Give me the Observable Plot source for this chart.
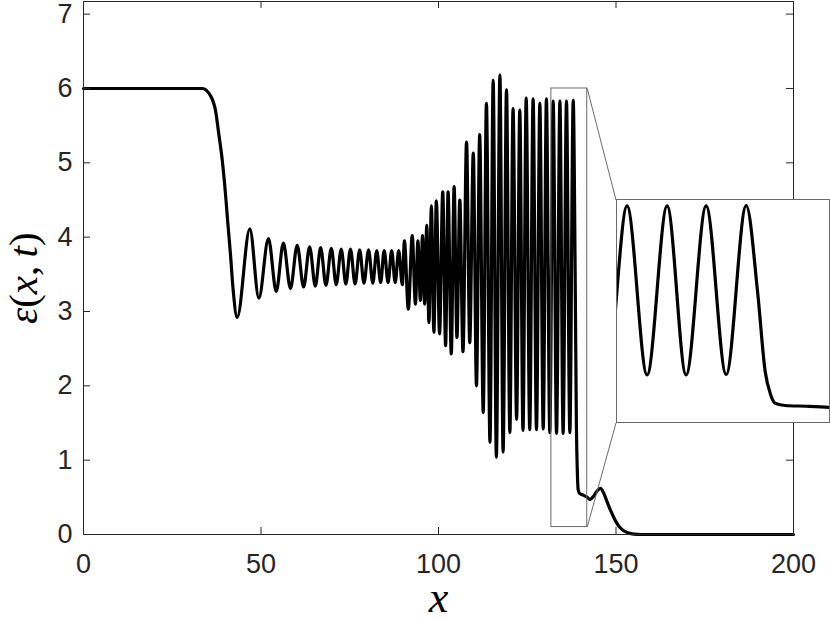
<!DOCTYPE html>
<html>
<head>
<meta charset="utf-8">
<script src="https://cdn.jsdelivr.net/npm/d3@7"></script>
<script src="https://cdn.jsdelivr.net/npm/@observablehq/plot@0.6"></script>
<style>
  html, body { margin: 0; padding: 0; background: #fff; }
  #wrap { position: relative; width: 830px; height: 621px; }
  #inset { position: absolute; }
</style>
</head>
<body>
<div id="wrap"><div id="main"></div><div id="inset"></div></div>
<script>
// ---- data ----
const xTicks = [0, 50, 100, 150, 200];
const yTicks = [0, 1, 2, 3, 4, 5, 6, 7];

// epsilon(x,t): plateau, front, damped ripples, growing oscillation, drop, bump, zero tail
const curveX = [
  0, 30, 33.5, 35.8, 37.2, 38.1, 39.1, 40.0, 40.6, 41.4, 42.1, 43.3,
  46.85, 49.4, 52.1, 54.3, 56.3, 58.3, 60.2, 62.0, 63.7, 65.3, 66.8, 68.3, 69.8, 71.2,
  72.6, 73.9, 75.2, 76.5, 77.8, 79.0, 80.3, 81.5, 82.6, 83.7, 84.7, 85.8, 86.8, 87.8, 88.8, 89.8,
  90.4, 91.5, 92.6, 93.5, 94.2, 94.9, 95.5, 96.1, 96.7, 97.3, 98.0, 98.7, 99.4, 100.3,
  101.2, 102.0, 102.7, 103.6, 104.4, 105.2, 106.0, 106.9, 107.9, 108.8, 109.8, 110.7,
  111.6, 112.6, 113.5, 114.5, 115.4, 116.3, 117.3, 118.2, 119.15, 120.1, 121.0, 122.0,
  122.9, 123.8, 124.7, 125.7, 126.65, 127.6, 128.55, 129.5, 130.4, 131.35, 132.3, 133.25,
  134.2, 135.1, 136.05, 137.0, 137.95,
  138.5, 138.85, 139.1, 139.35, 139.8, 140.8, 141.9, 142.6, 143.6, 144.6, 145.6, 146.6,
  147.5, 148.5, 149.9, 151.0, 152.2, 153.5, 155.0, 157.0, 200
];
const curveY = [
  6.00, 6.00, 6.00, 5.90, 5.70, 5.39, 5.03, 4.58, 4.22, 3.77, 3.32, 2.92,
  4.11, 3.18, 3.98, 3.27, 3.92, 3.31, 3.89, 3.33, 3.87, 3.34, 3.86, 3.35, 3.85, 3.36,
  3.84, 3.37, 3.84, 3.37, 3.83, 3.38, 3.83, 3.38, 3.82, 3.39, 3.82, 3.39, 3.82, 3.39, 3.82, 3.36,
  3.95, 3.03, 4.02, 3.10, 3.95, 3.15, 4.02, 3.10, 4.16, 2.85, 4.42, 2.72, 4.49, 2.70,
  4.61, 2.54, 4.61, 2.43, 4.68, 2.65, 4.50, 2.46, 5.28, 2.58, 5.13, 2.00,
  5.38, 1.64, 5.80, 1.24, 6.11, 1.04, 6.18, 1.11, 5.98, 1.37, 5.73, 1.55,
  5.71, 1.40, 5.87, 1.41, 5.86, 1.41, 5.80, 1.42, 5.86, 1.37, 5.83, 1.36,
  5.83, 1.36, 5.83, 1.37, 5.84,
  3.50, 1.45, 0.85, 0.60, 0.55, 0.53, 0.50, 0.47, 0.51, 0.58, 0.62, 0.55,
  0.44, 0.32, 0.18, 0.10, 0.05, 0.02, 0.005, 0, 0
];

// magnified window (data units) and where its enlargement sits (data units of main axes)
const zoomBoxX = [131.8, 141.9];
const zoomBoxY = [0.1, 6.0];
const insetX = [150, 210];
const insetY = [1.5, 4.5];

(function () {
  const curve = curveX.map((x, i) => ({x, y: curveY[i]}));
  const W = 830, H = 621, mL = 83, mR = 37, mT = 1, mB = 87;
  const innerW = W - mL - mR, innerH = H - mT - mB;
  const TICK = 7;
  const axisColor = "#262626";
  const boxColor = "#6a6a6a";
  const serif = "'Liberation Serif', 'Times New Roman', serif";

  const main = Plot.plot({
    width: W, height: H,
    marginLeft: mL, marginRight: mR, marginTop: mT, marginBottom: mB,
    x: {domain: [0, 200]},
    y: {domain: [0, 7.17]},
    style: {fontFamily: "'Liberation Sans', Arial, Helvetica, sans-serif", fontSize: "27px", color: axisColor, background: "white", overflow: "visible"},
    marks: [
      Plot.axisX(xTicks, {tickSize: 0, tickPadding: 19, label: null, tickFormat: d => String(d)}),
      Plot.axisY(yTicks, {tickSize: 0, tickPadding: 11, label: null, tickFormat: d => String(d)}),
      Plot.line(curve, {x: "x", y: "y", curve: "monotone-x", stroke: "black", strokeWidth: 3.2}),
      Plot.frame({stroke: axisColor, strokeWidth: 1}),
      Plot.ruleX(xTicks, {x: d => d, insetTop: innerH - TICK, stroke: axisColor}),
      Plot.ruleX(xTicks, {x: d => d, insetBottom: innerH - TICK, stroke: axisColor}),
      Plot.ruleY(yTicks, {y: d => d, insetRight: innerW - TICK, stroke: axisColor}),
      Plot.ruleY(yTicks, {y: d => d, insetLeft: innerW - TICK, stroke: axisColor}),
      Plot.rect([{x1: zoomBoxX[0], x2: zoomBoxX[1], y1: zoomBoxY[0], y2: zoomBoxY[1]}],
        {x1: "x1", x2: "x2", y1: "y1", y2: "y2", fill: "none", stroke: boxColor, strokeWidth: 1}),
      Plot.link([
        {x1: zoomBoxX[1], y1: zoomBoxY[1], x2: insetX[0], y2: insetY[1]},
        {x1: zoomBoxX[1], y1: zoomBoxY[0], x2: insetX[0], y2: insetY[0]}
      ], {x1: "x1", y1: "y1", x2: "x2", y2: "y2", stroke: boxColor, strokeWidth: 1}),
      Plot.text(["ε(x, t)"], {text: d => d, frameAnchor: "left", rotate: -90, dx: -60, dy: 56,
        fontSize: 41, fontFamily: serif, fill: "black"}),
      Plot.text(["x"], {text: d => d, frameAnchor: "bottom", dy: 77,
        fontSize: 44, fontFamily: serif, fontStyle: "italic", fill: "black"})
    ]
  });
  document.getElementById("main").appendChild(main);

  // math-style label: italic symbols, upright punctuation
  d3.select(main).selectAll("text").each(function () {
    if (this.textContent === "ε(x, t)") {
      const t = d3.select(this);
      t.text(null);
      [["ε", true], ["(", false], ["x", true], [",\u2009", false], ["t", true], [")", false]].forEach(([s, it]) => {
        t.append("tspan").attr("font-style", it ? "italic" : "normal").text(s);
      });
    }
  });

  // inset (enlargement of the boxed window)
  const sx = main.scale("x"), sy = main.scale("y");
  const pxLeft = sx.apply(insetX[0]), pxRight = sx.apply(insetX[1]);
  const pxTop = sy.apply(insetY[1]), pxBottom = sy.apply(insetY[0]);
  const insetPlot = Plot.plot({
    width: Math.round(pxRight - pxLeft), height: Math.round(pxBottom - pxTop),
    margin: 0,
    x: {domain: zoomBoxX, axis: null},
    y: {domain: zoomBoxY, axis: null},
    style: {background: "white", overflow: "visible"},
    marks: [
      Plot.line(curve, {x: "x", y: "y", curve: "monotone-x", stroke: "black", strokeWidth: 3.2, clip: "frame"}),
      Plot.frame({stroke: boxColor, strokeWidth: 1})
    ]
  });
  const insetDiv = document.getElementById("inset");
  insetDiv.style.left = Math.round(pxLeft) + "px";
  insetDiv.style.top = Math.round(pxTop) + "px";
  insetDiv.appendChild(insetPlot);
})();
</script>
</body>
</html>
